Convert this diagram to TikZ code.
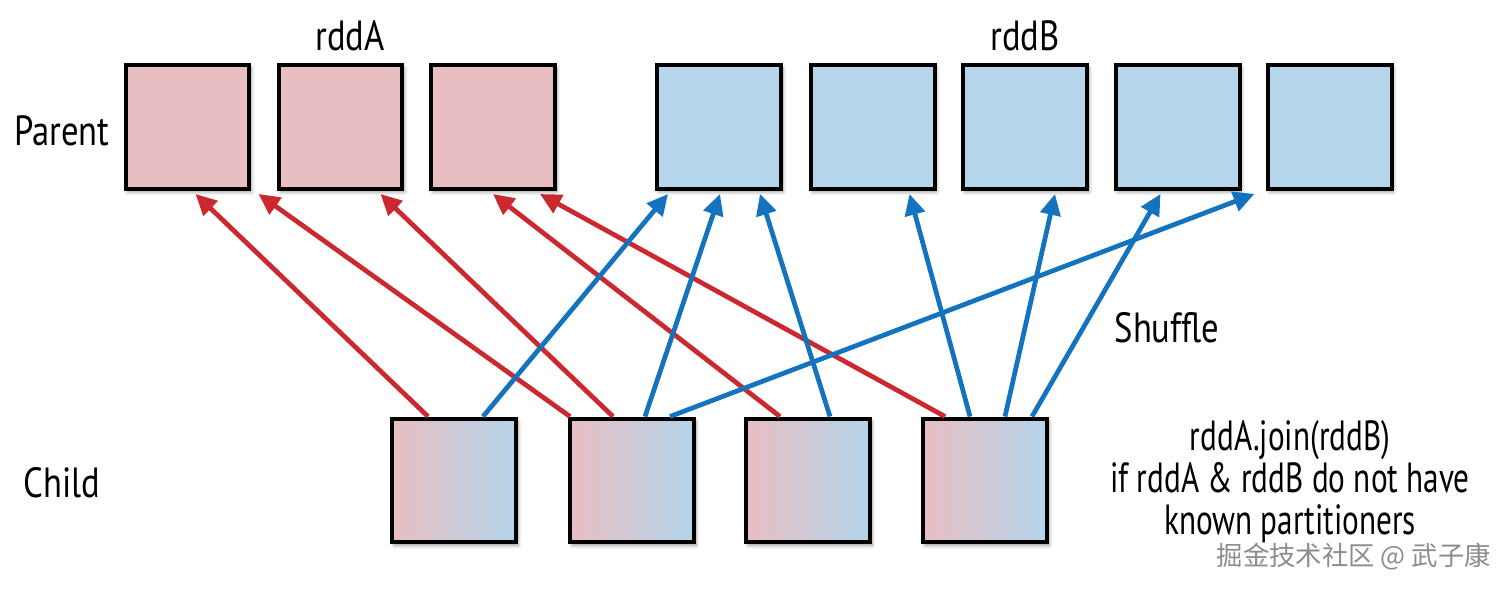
\documentclass[tikz,border=0pt]{standalone}
\usepackage{fontspec}
\setmainfont{PT Sans}[FakeStretch=0.82]
\newfontfamily\narrowf{PT Sans}[FakeStretch=0.74]
\newfontfamily\cjk{Noto Sans CJK SC}
\usetikzlibrary{arrows.meta,calc,shadows.blur}
\definecolor{pk}{RGB}{232,190,194}
\definecolor{bl}{RGB}{180,213,234}
\definecolor{rl}{RGB}{204,40,48}
\definecolor{bll}{RGB}{20,115,190}
\begin{document}
\begin{tikzpicture}[x=0.02cm,y=-0.02cm,
  box/.style={draw=black,line width=0.08cm,minimum size=2.48cm,inner sep=0pt,blur shadow={shadow xshift=0.04cm,shadow yshift=-0.06cm,shadow blur steps=6}},
  pa/.style={box,fill=pk},
  pb/.style={box,fill=bl},
  ch/.style={box,left color=pk,right color=bl},
  ra/.style={draw=rl,line width=0.095cm,-{Triangle[length=0.42cm,width=0.4cm]}},
  ba/.style={draw=bll,line width=0.095cm,-{Triangle[length=0.42cm,width=0.4cm]}},
  lbl/.style={font=\fontsize{24}{24}\selectfont}]
\useasboundingbox (0,0) rectangle (1500,589);
\node[pa] (pA1) at (187.5,127) {};
\node[pa] (pA2) at (340.5,127) {};
\node[pa] (pA3) at (493,127) {};
\node[pb] (pB1) at (719,127) {};
\node[pb] (pB2) at (872.5,127) {};
\node[pb] (pB3) at (1025,127) {};
\node[pb] (pB4) at (1177.5,127) {};
\node[pb] (pB5) at (1329.5,127) {};
\node[ch] (c1) at (454,480.5) {};
\node[ch] (c2) at (632,480.5) {};
\node[ch] (c3) at (808,480.5) {};
\node[ch] (c4) at (985,480.5) {};
\node[lbl] (ta) at (350,36) {rddA};
\node[lbl] (tb) at (1025,36) {rddB};
\node[lbl] (tp) at (62,131) {Parent};
\node[lbl] (tc) at (62,483) {Child};
\node[lbl] (ts) at (1167,328) {Shuffle};
\node[font=\narrowf\fontsize{24}{24}\selectfont,align=center] (tj) at (1290,482) {rddA.join(rddB)\\if rddA \& rddB do not have\\known partitioners};
\node[font=\cjk\fontsize{15}{18}\selectfont,text=black!45,anchor=east] (wm) at (1497,557) {掘金技术社区 @ 武子康};
% red
\draw[ra] ($(c1.north)+(-26,0)$) -- ($(pA1.south)+(8,3)$);
\draw[ra] ($(c2.north)+(-62,0)$) -- ($(pA2.south)+(-82,3)$);
\draw[ra] ($(c2.north)+(-19,0)$) -- ($(pA2.south)+(40,3)$);
\draw[ra] ($(c3.north)+(-28,0)$) -- ($(pA3.south)+(0,3)$);
\draw[ra] ($(c4.north)+(-40,0)$) -- ($(pA3.south)+(47,3)$);
% blue
\draw[ba] ($(c1.north)+(29,0)$) -- ($(pB1.south)+(-51,3)$);
\draw[ba] ($(c2.north)+(13,0)$) -- ($(pB1.south)+(1,3)$);
\draw[ba] ($(c2.north)+(38,0)$) -- ($(pB5.south)+(-75,3)$);
\draw[ba] ($(c3.north)+(22,0)$) -- ($(pB1.south)+(41,3)$);
\draw[ba] ($(c4.north)+(-15,0)$) -- ($(pB2.south)+(37,3)$);
\draw[ba] ($(c4.north)+(20,0)$) -- ($(pB3.south)+(30,3)$);
\draw[ba] ($(c4.north)+(47,0)$) -- ($(pB4.south)+(-17,3)$);
\end{tikzpicture}
\end{document}
